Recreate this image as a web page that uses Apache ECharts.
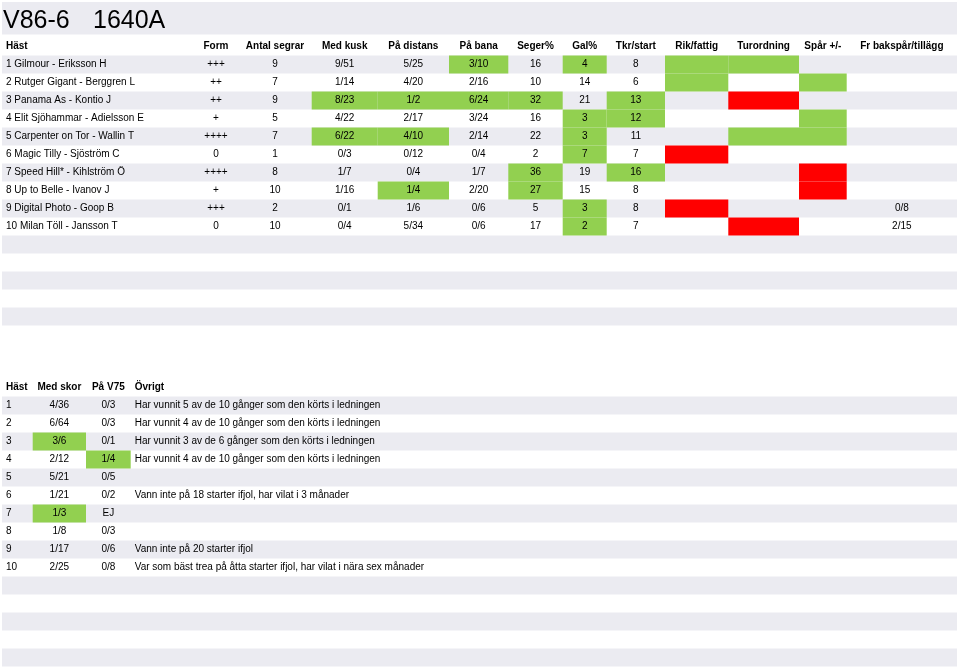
<!DOCTYPE html>
<html><head><meta charset="utf-8">
<script src="https://cdn.jsdelivr.net/npm/echarts@6/dist/echarts.min.js"></script>
<style>html,body{margin:0;padding:0;background:#fff}#c{width:959px;height:668px}</style>
</head><body><div id="c"></div>
<script>
// ---------- data ----------
const titleParts = ['V86-6','1640A'];
const header1 = ['Häst','Form','Antal segrar','Med kusk','På distans','På bana','Seger%','Gal%','Tkr/start','Rik/fattig','Turordning','Spår +/-','Fr bakspår/tillägg'];
const horses = ['1 Gilmour - Eriksson H','2 Rutger Gigant - Berggren L','3 Panama As - Kontio J','4 Elit Sjöhammar - Adielsson E','5 Carpenter on Tor - Wallin T','6 Magic Tilly - Sjöström C','7 Speed Hill* - Kihlström Ö','8 Up to Belle - Ivanov J','9 Digital Photo - Goop B','10 Milan Töll - Jansson T'];
const form = ['+++','++','++','+','++++','0','++++','+','+++','0'];
const antalSegrar = [9,7,9,5,7,1,8,10,2,10];
const medKusk = ['9/51','1/14','8/23','4/22','6/22','0/3','1/7','1/16','0/1','0/4'];
const paDistans = ['5/25','4/20','1/2','2/17','4/10','0/12','0/4','1/4','1/6','5/34'];
const paBana = ['3/10','2/16','6/24','3/24','2/14','0/4','1/7','2/20','0/6','0/6'];
const segerPct = [16,10,32,16,22,2,36,27,5,17];
const galPct = [4,14,21,3,3,7,19,15,3,2];
const tkrStart = [8,6,13,12,11,7,16,8,8,7];
const rikFattig = ['','','','','','','','','',''];
const turordning = ['','','','','','','','','',''];
const sparPM = ['','','','','','','','','',''];
const frBakspar = ['','','','','','','','','0/8','2/15'];
// status per column: g = green (good), r = red (bad), '' = none
const stHorse = ['','','','','','','','','',''];
const stForm = ['','','','','','','','','',''];
const stAntal = ['','','','','','','','','',''];
const stMedKusk = ['','','g','','g','','','','',''];
const stPaDistans = ['','','g','','g','','','g','',''];
const stPaBana = ['g','','g','','','','','','',''];
const stSeger = ['','','g','','','','g','g','',''];
const stGal = ['g','','','g','g','g','','','g','g'];
const stTkr = ['','','g','g','','','g','','',''];
const stRik = ['g','g','','','','r','','','r',''];
const stTur = ['g','','r','','g','','','','','r'];
const stSpar = ['','g','','g','g','','r','r','',''];
const stFr = ['','','','','','','','','',''];

const header2 = ['Häst','Med skor','På V75','Övrigt'];
const nums = ['1','2','3','4','5','6','7','8','9','10'];
const medSkor = ['4/36','6/64','3/6','2/12','5/21','1/21','1/3','1/8','1/17','2/25'];
const paV75 = ['0/3','0/3','0/1','1/4','0/5','0/2','EJ','0/3','0/6','0/8'];
const ovrigt = ['Har vunnit 5 av de 10 gånger som den körts i ledningen','Har vunnit 4 av de 10 gånger som den körts i ledningen','Har vunnit 3 av de 6 gånger som den körts i ledningen','Har vunnit 4 av de 10 gånger som den körts i ledningen','','Vann inte på 18 starter ifjol, har vilat i 3 månader','','','Vann inte på 20 starter ifjol','Var som bäst trea på åtta starter ifjol, har vilat i nära sex månader'];
const stNum = ['','','','','','','','','',''];
const stMedSkor = ['','','g','','','','g','','',''];
const stPaV75 = ['','','','g','','','','','',''];
const stOvrigt = ['','','','','','','','','',''];
const rowSlots = ['H','1','2','3','4','5','6','7','8','9','10','11','12','13','14','15'];

// ---------- layout (not data) ----------
const edges1 = [0,191.7,236.3,309.7,375.7,447,506.3,560.7,604.7,663,726.3,797,844.7,955];
const align1 = ['left','center','center','center','center','center','center','center','center','center','center','center','center'];
const edges2 = [0,30.7,84,128.7,955];
const align2 = ['left','center','center','left'];
const GREEN = '#92d050', RED = '#ff0000', STRIPE = '#ebebf1';
const FONT = '"Liberation Sans", Arial, sans-serif';

function buildCells(headers, cols, stats){
  const cells = [];
  headers.forEach((h,c)=>cells.push({value:[c,0], text:h, fill:'', bold:true}));
  cols.forEach((col,c)=>{
    col.forEach((v,r)=>{
      cells.push({value:[c,r+1], text:String(v), fill:stats[c][r], bold:false});
    });
  });
  return cells;
}
const cells1 = buildCells(header1,
  [horses,form,antalSegrar,medKusk,paDistans,paBana,segerPct,galPct,tkrStart,rikFattig,turordning,sparPM,frBakspar],
  [stHorse,stForm,stAntal,stMedKusk,stPaDistans,stPaBana,stSeger,stGal,stTkr,stRik,stTur,stSpar,stFr]);
const cells2 = buildCells(header2,[nums,medSkor,paV75,ovrigt],[stNum,stMedSkor,stPaV75,stOvrigt]);

function makeRender(cells, edges, aligns){
  return function(params, api){
    const d = cells[params.dataIndex];
    const col = api.value(0), row = api.value(1);
    const p0 = api.coord([edges[col], row]);
    const p1 = api.coord([edges[col+1], row]);
    const h = api.size([0,1])[1];
    const children = [];
    if (d.fill){
      children.push({type:'rect', shape:{x:p0[0], y:p0[1]-h/2, width:p1[0]-p0[0], height:h},
        style:{fill: d.fill==='g'?GREEN:RED}});
    }
    if (d.text){
      const al = aligns[col];
      children.push({type:'text', style:{text:d.text,
        x: al==='left' ? p0[0]+4 : (p0[0]+p1[0])/2, y:p0[1],
        align: al, verticalAlign:'middle', fill:'#000',
        font: (d.bold?'bold ':'')+'10px '+FONT}});
    }
    return {type:'group', children};
  };
}

function yAxisFor(idx){
  return {gridIndex:idx, type:'category', data:rowSlots, inverse:true, boundaryGap:true,
    axisLine:{show:false}, axisTick:{show:false}, axisLabel:{show:false}, splitLine:{show:false},
    splitArea:{show:true, interval:0, areaStyle:{color:['rgba(255,255,255,0)',STRIPE]}}};
}
function xAxisFor(idx){
  return {gridIndex:idx, type:'value', min:0, max:955, show:false, splitLine:{show:false}};
}
const titleLefts = [3, 93];
const titleStyle = {fontFamily:FONT, fontSize:25, fontWeight:'normal', color:'#000'};

const chart = echarts.init(document.getElementById('c'), null, {renderer:'canvas'});
chart.setOption({
  animation:false,
  backgroundColor:'#fff',
  title: titleParts.map((t,i)=>({text:t, left:titleLefts[i], top:9, padding:0, textStyle:titleStyle})),
  graphic:[{type:'rect', left:2, top:2, z:-10, shape:{width:955, height:32.5}, style:{fill:STRIPE}}],
  grid:[
    {left:2, width:955, top:37.5, height:288},
    {left:2, width:955, top:378.5, height:288}
  ],
  xAxis:[xAxisFor(0), xAxisFor(1)],
  yAxis:[yAxisFor(0), yAxisFor(1)],
  series:[
    {type:'custom', xAxisIndex:0, yAxisIndex:0, data:cells1, renderItem:makeRender(cells1, edges1, align1), silent:true},
    {type:'custom', xAxisIndex:1, yAxisIndex:1, data:cells2, renderItem:makeRender(cells2, edges2, align2), silent:true}
  ]
});
</script></body></html>
